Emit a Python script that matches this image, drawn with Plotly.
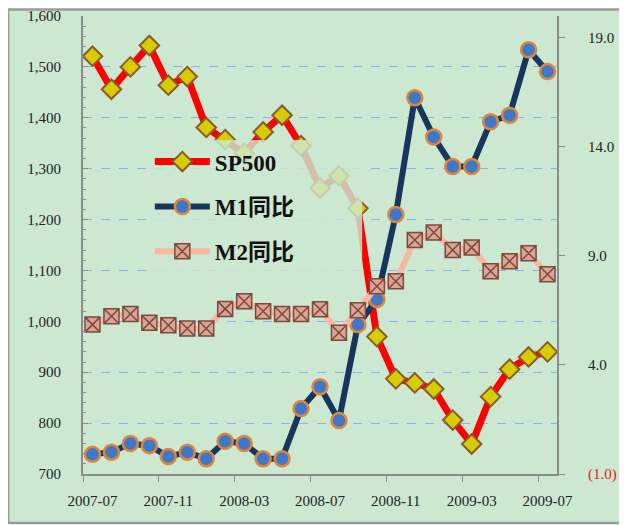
import plotly.graph_objects as go

months = ["2007-07","2007-08","2007-09","2007-10","2007-11","2007-12","2008-01","2008-02",
          "2008-03","2008-04","2008-05","2008-06","2008-07","2008-08","2008-09","2008-10",
          "2008-11","2008-12","2009-01","2009-02","2009-03","2009-04","2009-05","2009-06","2009-07"]
sp500 = [1521, 1456, 1500, 1542, 1464, 1481, 1381, 1357, 1330, 1372, 1405, 1345, 1262,
         1286, 1222, 970, 887, 879, 867, 806, 759, 852, 906, 930, 940]
m1 = [-0.1, 0.0, 0.4, 0.3, -0.2, 0.0, -0.3, 0.5, 0.4, -0.3, -0.3, 2.0, 3.0, 1.45,
      5.85, 7.0, 10.9, 16.25, 14.45, 13.1, 13.1, 15.15, 15.45, 18.45, 17.45]
m2 = [5.85, 6.23, 6.34, 5.93, 5.82, 5.67, 5.67, 6.57, 6.92, 6.46, 6.34, 6.34, 6.55,
      5.48, 6.51, 7.61, 7.84, 9.73, 10.07, 9.27, 9.38, 8.3, 8.76, 9.12, 8.16]

left_ticks = [700, 800, 900, 1000, 1100, 1200, 1300, 1400, 1500, 1600]
right_ticks = [-1, 4, 9, 14, 19]
right_text = ['<span style="color:#e02020">(1.0)</span>', "4.0", "9.0", "14.0", "19.0"]
label_months = ["2007-07", "2007-11", "2008-03", "2008-07", "2008-11", "2009-03", "2009-07"]

x = list(range(len(months)))
label_pos = [months.index(m) for m in label_months]

SERIF = "Liberation Serif, Times New Roman, serif"
LEG_FONT = "Liberation Serif, Noto Sans CJK SC, serif"

fig = go.Figure()
fig.add_trace(go.Scatter(
    x=x, y=sp500, name="SP500", mode="lines+markers", legendgroup="a", legendrank=1,
    line=dict(color="#ff0000", width=7),
    marker=dict(symbol="diamond", size=15, color="#d6cc00", line=dict(color="#8a5a2a", width=2)),
    yaxis="y"))
fig.add_trace(go.Scatter(
    x=x, y=m1, name="M1同比", mode="lines+markers", legendgroup="b", legendrank=2,
    line=dict(color="#17365d", width=6),
    marker=dict(symbol="circle", size=15, color="#3f78c8", line=dict(color="#e0863a", width=2.5)),
    yaxis="y2"))
fig.add_trace(go.Scatter(
    x=x, y=m2, name="M2同比", mode="lines+markers", legendgroup="c", legendrank=3,
    line=dict(color="#f6b9a2", width=6),
    marker=dict(symbol="square-x", size=15, color="#dda494", line=dict(color="#7a4a3e", width=1.5)),
    yaxis="y2"))

# outer frame
fig.add_shape(type="rect", xref="paper", yref="paper",
              x0=-0.158, x1=1.1435, y0=-0.107, y1=1.014,
              fillcolor="#cde8d0", line=dict(color="#9a9a9a", width=2.5), layer="below")
# translucent legend backdrop
fig.add_shape(type="rect", xref="paper", yref="paper",
              x0=0.141, x1=0.589, y0=0.4345, y1=0.729,
              fillcolor="rgba(205,232,208,0.82)", line=dict(width=0), layer="above")

fig.update_layout(
    width=619, height=517,
    margin=dict(l=75, r=70, t=8, b=51, autoexpand=False),
    paper_bgcolor="white",
    plot_bgcolor="rgba(0,0,0,0)",
    font=dict(family=SERIF, size=15, color="#222222"),
    showlegend=True,
    legend=dict(x=0.141, y=0.729, xanchor="left", yanchor="top",
                bgcolor="rgba(0,0,0,0)", borderwidth=0,
                font=dict(family=LEG_FONT, size=23, color="#111111", weight="bold"),
                itemwidth=55, tracegroupgap=12, traceorder="grouped"),
    xaxis=dict(range=[-0.5, len(months) - 0.5], tickvals=label_pos, ticktext=label_months,
               ticks="", showgrid=False, zeroline=False, automargin=False,
               showline=True, linecolor="#8c8c8c", linewidth=2,
               minor=dict(tick0=-0.5, dtick=4, ticks="outside", ticklen=6,
                          tickcolor="#8c8c8c", showgrid=False),
               tickfont=dict(family=SERIF, size=15, color="#222222"),
               ticklabelstandoff=12),
    yaxis=dict(range=[700, 1600], tickvals=left_ticks, tickformat=",",
               ticks="inside", ticklen=5, tickcolor="#8c8c8c", automargin=False,
               showline=True, linecolor="#8c8c8c", linewidth=2,
               showgrid=True, gridcolor="#8fb2ec", griddash="dash", gridwidth=1,
               zeroline=False,
               minor=dict(dtick=20, ticks="inside", ticklen=3, tickcolor="#8c8c8c", showgrid=False),
               tickfont=dict(family=SERIF, size=15, color="#222222"),
               ticklabelstandoff=17),
    yaxis2=dict(range=[-1, 20], tickvals=right_ticks, ticktext=right_text,
                overlaying="y", side="right", automargin=False,
                ticks="outside", ticklen=6, tickcolor="#8c8c8c",
                showline=True, linecolor="#8c8c8c", linewidth=2,
                showgrid=False, zeroline=False,
                tickfont=dict(family=SERIF, size=15, color="#222222"),
                ticklabelstandoff=20),
)

fig.write_html("out.html")
